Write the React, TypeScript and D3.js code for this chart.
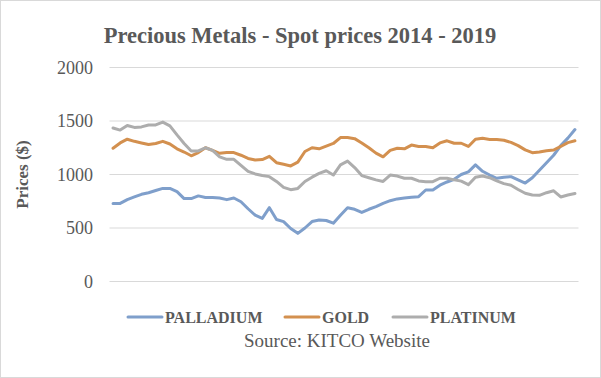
import React from "react";
import * as d3 from "d3";

const months: number[] = d3.range(66);
const palladium = [730,730,765,790,815,830,850,870,870,840,775,775,800,785,785,780,765,780,745,680,620,590,690,580,560,495,450,500,560,575,570,545,620,690,675,645,675,700,730,755,772,780,788,793,855,855,900,930,955,1000,1025,1090,1030,995,965,975,980,950,920,970,1040,1110,1180,1270,1340,1420];
const gold = [1245,1295,1330,1310,1295,1280,1290,1310,1285,1240,1210,1175,1205,1250,1225,1198,1205,1205,1180,1150,1136,1140,1170,1110,1095,1080,1115,1215,1250,1240,1265,1290,1345,1345,1335,1295,1250,1200,1165,1225,1245,1240,1275,1262,1262,1250,1295,1315,1292,1292,1262,1330,1338,1328,1326,1320,1300,1270,1230,1204,1210,1222,1229,1262,1298,1315];
const platinum = [1435,1415,1458,1440,1445,1463,1463,1490,1455,1370,1290,1220,1220,1250,1225,1165,1142,1142,1085,1030,1005,990,980,935,880,858,870,935,975,1010,1035,995,1090,1125,1065,990,970,950,935,995,985,965,965,940,933,933,965,965,950,938,905,975,986,970,940,915,900,860,825,808,805,830,848,790,808,822];
const yTicks = [0, 500, 1000, 1500, 2000];
const seriesNames = ["PALLADIUM", "GOLD", "PLATINUM"];
const seriesColors = ["#7F9FCB", "#D3904F", "#ADADAD"];

export default function App() {
  const W = 601, H = 378;
  const left = 109.5, right = 578.5, top = 67.5, bottom = 281.5;
  const x = d3.scalePoint<number>().domain(months).range([left, right]).padding(0.5);
  const y = d3.scaleLinear().domain([0, 2000]).range([bottom, top]);
  const line = d3.line<number>().x((_, i) => x(i) as number).y((v) => y(v));
  const data = [palladium, gold, platinum];
  const font = "'Liberation Serif', 'DejaVu Serif', serif";
  const legendX = [128, 285, 393];
  return (
    <svg width={W} height={H} style={{ position: "absolute", left: 0, top: 0, fontFamily: font }}>
      <rect x={0.5} y={0.5} width={W - 1} height={H - 1} fill="#fff" stroke="#d9d9d9" />
      <text x={300} y={43} textAnchor="middle" fontSize={22.5} fontWeight="bold" fill="#595959">
        Precious Metals - Spot prices 2014 - 2019
      </text>
      {yTicks.map((t) => (
        <g key={t}>
          <line x1={left} x2={right} y1={y(t)} y2={y(t)} stroke="#d9d9d9" strokeWidth={1} />
          <text x={93} y={y(t)} dy="0.35em" textAnchor="end" fontSize={18} fill="#595959">
            {t}
          </text>
        </g>
      ))}
      <text transform={`translate(28,${(top + bottom) / 2}) rotate(-90)`} textAnchor="middle" fontSize={17} fontWeight="bold" fill="#595959">
        Prices ($)
      </text>
      {data.map((d, k) => (
        <path key={k} d={line(d) || ""} fill="none" stroke={seriesColors[k]} strokeWidth={3} strokeLinejoin="round" strokeLinecap="round" />
      ))}
      {seriesNames.map((n, k) => (
        <g key={n}>
          <line x1={legendX[k]} x2={legendX[k] + 34} y1={317} y2={317} stroke={seriesColors[k]} strokeWidth={3} strokeLinecap="round" />
          <text x={legendX[k] + 37} y={323} fontSize={16} fontWeight="bold" fill="#595959">
            {n}
          </text>
        </g>
      ))}
      <text x={337} y={347} textAnchor="middle" fontSize={19} fill="#595959">
        Source: KITCO Website
      </text>
    </svg>
  );
}
